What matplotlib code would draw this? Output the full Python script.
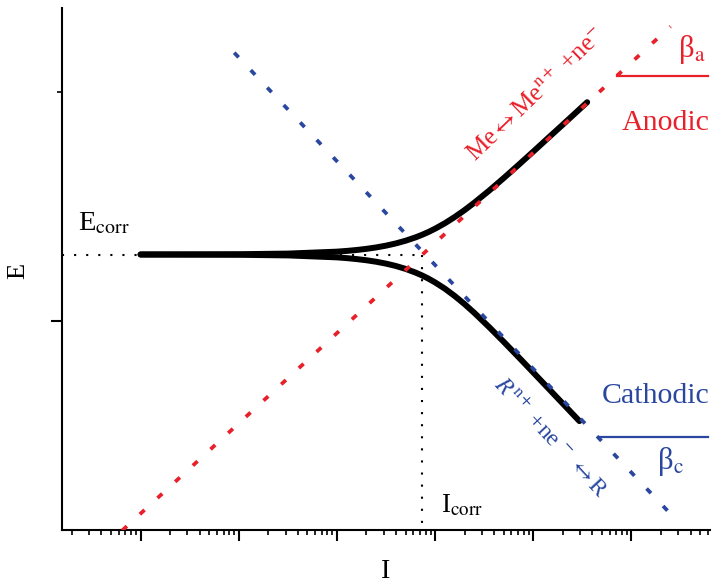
import numpy as np
import matplotlib
matplotlib.use("Agg")
import matplotlib.pyplot as plt
from matplotlib.ticker import LogLocator, NullFormatter, FixedLocator

plt.rcParams['font.family'] = ['Liberation Serif', 'DejaVu Serif']
plt.rcParams['mathtext.fontset'] = 'stix'

# ---- data (I in arbitrary current units, E in mV relative to Ecorr) ----
E_corr = 0.0
I_corr = 733.0

# anodic Tafel line (endpoints)
anodic_I = [0.65, 2.5e5]
anodic_E = [-276.0, 228.0]

# cathodic Tafel line (endpoints)
cathodic_I = [9.0, 2.96e5]
cathodic_E = [201.8, -267.0]

# measured polarisation curve, anodic branch (log10 I, E)
upper_logI = [0.0, 1.0, 1.5, 2.0, 2.1, 2.2, 2.3, 2.4, 2.5, 2.6, 2.7, 2.8, 2.865,
              2.93, 3.0, 3.1, 3.2, 3.3, 3.4, 3.55, 3.7, 3.85, 4.0, 4.15, 4.3, 4.549]
upper_E = [0.03, 0.29, 0.9, 2.85, 3.58, 4.5, 5.65, 7.07, 8.85, 11.07, 13.8, 17.09, 19.6,
           22.4, 25.8, 31.27, 37.5, 44.37, 51.85, 63.84, 76.5, 89.6, 102.9, 116.4, 129.8, 152.3]

# measured polarisation curve, cathodic branch (log10 I, E)
lower_logI = [0.0, 1.0, 1.5, 2.0, 2.1, 2.2, 2.3, 2.4, 2.5, 2.6, 2.7, 2.8, 2.865,
              2.93, 3.0, 3.1, 3.2, 3.3, 3.4, 3.55, 3.7, 3.85, 4.0, 4.15, 4.3, 4.47]
lower_E = [-0.03, -0.29, -0.9, -2.87, -3.62, -4.57, -5.75, -7.24, -9.12, -11.47, -14.41,
           -18.05, -20.83, -24.01, -27.9, -34.2, -41.5, -49.6, -58.4, -72.55, -87.4,
           -102.6, -118.0, -133.5, -149.0, -166.6]

# beta marker lines (start on Tafel line, horizontal to the right)
beta_a_I = [7.15e4, 6.0e5]
beta_a_E = [178.5, 178.5]
beta_c_I = [4.58e4, 6.0e5]
beta_c_E = [-182.2, -182.2]

RED = '#e8202a'
BLUE = '#2a47a0'

W, H = 723, 583
fig = plt.figure(figsize=(W / 100, H / 100), dpi=100)
ax = fig.add_axes([62 / W, (H - 530) / H, (710 - 62) / W, (530 - 8) / H])
ax.set_xscale('log')
ax.set_xlim(10 ** -0.8, 10 ** 5.80)
ax.set_ylim(-275.5, 246.5)

# black polarisation curve
ax.plot(np.power(10.0, upper_logI), upper_E, color='black', lw=4.3,
        solid_capstyle='round', solid_joinstyle='round', zorder=3)
ax.plot(np.power(10.0, lower_logI), lower_E, color='black', lw=4.3,
        solid_capstyle='round', solid_joinstyle='round', zorder=3)

# Ecorr / Icorr dotted guides
ax.plot([10 ** -0.8, I_corr], [E_corr, E_corr], color='black', lw=1.5,
        dashes=(1.0, 4.8), zorder=2)
ax.plot([I_corr, I_corr], [E_corr, -275.5], color='black', lw=1.5,
        dashes=(1.0, 4.8), zorder=2)

# Tafel lines
ax.plot(anodic_I, anodic_E, color=RED, lw=2.7, dashes=(1.7, 4.7), zorder=4)
ax.plot(cathodic_I, cathodic_E, color=BLUE, lw=2.7, dashes=(1.7, 4.7), zorder=4)

# beta lines
ax.plot(beta_a_I, beta_a_E, color=RED, lw=1.6, zorder=4)
ax.plot(beta_c_I, beta_c_E, color=BLUE, lw=1.6, zorder=4)

ax.text(10 ** -0.637, 24.5, r'E$_{\rm corr}$', fontsize=20.5, ha='left', va='baseline')
ax.text(10 ** 3.061, -257.5, r'I$_{\rm corr}$', fontsize=19.5, ha='left', va='baseline')
ax.text(10 ** 4.902, 124.5, 'Anodic', fontsize=21.5, color=RED, ha='left', va='baseline')
ax.text(10 ** 5.476, 197.5, r'β$_{\rm a}$', fontsize=22, color=RED, ha='left', va='baseline')
ax.text(10 ** 4.698, -148.8, 'Cathodic', fontsize=21.5, color=BLUE, ha='left', va='baseline')
ax.text(10 ** 5.259, -214.5, r'β$_{\rm c}$', fontsize=22, color=BLUE, ha='left', va='baseline')

ax.text(10 ** 3.408, 91.5, r'Me$\leftrightarrow$Me$^{\rm n+}$ +ne$^{-}$', fontsize=18,
        color=RED, rotation=44, rotation_mode='anchor', ha='left', va='baseline')
ax.text(10 ** 3.59, -131, r'$R^{\rm n+}$ +ne $^{-}$ $\leftrightarrow$R', fontsize=17,
        color=BLUE, rotation=-47, rotation_mode='anchor', ha='left', va='baseline')

# axes styling
for s in ['top', 'right']:
    ax.spines[s].set_visible(False)
for s in ['left', 'bottom']:
    ax.spines[s].set_linewidth(1.5)
ax.xaxis.set_major_locator(LogLocator(base=10, numticks=20))
ax.xaxis.set_minor_locator(LogLocator(base=10, subs=np.arange(2, 10), numticks=20))
ax.xaxis.set_major_formatter(NullFormatter())
ax.xaxis.set_minor_formatter(NullFormatter())
ax.yaxis.set_major_locator(FixedLocator([-66.5]))
ax.yaxis.set_minor_locator(FixedLocator([162.5]))
ax.yaxis.set_major_formatter(NullFormatter())
ax.tick_params(axis='both', which='major', direction='out', length=8, width=1.5)
ax.tick_params(axis='both', which='minor', direction='out', length=3.3, width=1.2)

fig.text(386 / W, 1 - 578 / H, 'I', fontsize=20, ha='center', va='baseline')
fig.text(18 / W, 1 - 271 / H, 'E', fontsize=19, ha='center', va='center', rotation=90)

fig.savefig('out.png', dpi=100)
